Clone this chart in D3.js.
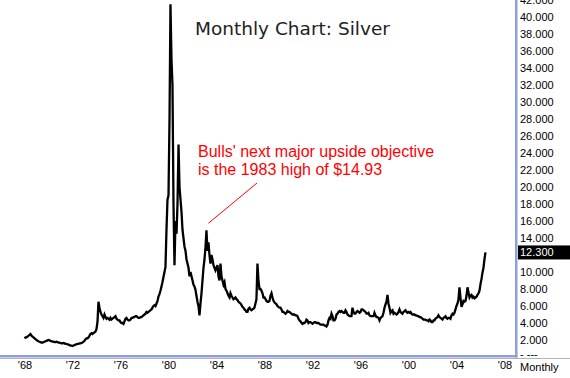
<!DOCTYPE html>
<html>
<head>
<meta charset="utf-8">
<script src="https://cdn.jsdelivr.net/npm/d3@7"></script>
<style>
  body { margin: 0; background: #fff; }
  svg { display: block; }
</style>
</head>
<body>
<div id="chart"></div>
<script>
// monthly silver prices, one value per month starting Jan 1968
const startYear = 1968;
const prices1960s = [
  2.2, 2.3, 2.3, 2.4, 2.5, 2.6, 2.7, 2.5, 2.4, 2.3, 2.2, 2.1,
  2.0, 1.9, 1.85, 1.8, 1.75, 1.7, 1.7, 1.75, 1.8, 1.85, 1.9, 1.95
];
const prices1970s = [
  2.0, 1.95, 1.9, 1.85, 1.8, 1.8, 1.75, 1.75, 1.8, 1.75, 1.7, 1.7,
  1.65, 1.6, 1.6, 1.65, 1.6, 1.55, 1.55, 1.5, 1.45, 1.4, 1.35, 1.35,
  1.3, 1.35, 1.4, 1.45, 1.5, 1.55, 1.55, 1.6, 1.6, 1.65, 1.7, 1.8,
  1.9, 2.1, 2.2, 2.2, 2.3, 2.5, 2.7, 2.8, 2.7, 2.8, 2.9, 3.0,
  3.3, 4.2, 6.5, 5.8, 5.3, 5.0, 4.8, 4.6, 5.0, 4.7, 4.5, 4.6,
  4.5, 4.4, 4.6, 4.4, 4.5, 4.6, 4.7, 4.8, 4.5, 4.4, 4.3, 4.3,
  4.1, 4.0, 4.0, 3.9, 4.2, 4.5, 4.6, 4.4, 4.3, 4.3, 4.4, 4.6,
  4.6, 4.7, 4.7, 4.8, 4.8, 4.7, 4.6, 4.6, 4.7, 4.7, 4.8, 4.9,
  5.0, 5.1, 5.3, 5.2, 5.3, 5.4, 5.5, 5.6, 5.8, 6.0, 6.1, 6.0,
  6.3, 6.6, 7.1, 7.4, 7.8, 8.3, 8.8, 9.4, 10.0, 10.6, 15.0, 18.5
];
const prices1980s = [
  19, 28, 41.5, 35, 32, 18, 10.8, 16, 14.5, 18, 25, 20,
  18.5, 17, 15, 14, 13, 12.5, 11.5, 11, 10.5, 9.5, 10, 9.5,
  9.0, 8.5, 8.3, 7.9, 7.2, 6.5, 6.0, 4.9, 6.3, 7.5, 9.0, 10.5,
  11.5, 13, 14.9, 12.5, 13.5, 12, 11, 12, 11.5, 10.8, 10.5, 10.2,
  10.5, 10.8, 9.5, 9.0, 11.0, 9.5, 9.0, 8.5, 8.8, 8.0, 7.8, 7.5,
  7.2, 7.0, 7.5, 7.2, 7.0, 6.8, 6.9, 7.0, 6.8, 6.7, 6.5, 6.4,
  6.3, 6.1, 5.9, 5.8, 5.6, 5.5, 5.3, 5.3, 5.7, 5.8, 5.6, 5.5,
  5.6, 5.7, 5.8, 6.3, 6.8, 11.0, 9.0, 8.0, 8.0, 7.8, 7.5, 7.0,
  7.0, 6.8, 6.6, 6.5, 6.5, 6.6, 7.2, 7.5, 7.0, 6.6, 6.4, 6.3,
  6.2, 6.0, 5.9, 5.8, 5.8, 5.6, 5.3, 5.3, 5.2, 5.1, 5.2, 5.4
];
const prices1990s = [
  5.3, 5.3, 5.2, 5.1, 5.0, 5.0, 5.0, 4.9, 4.9, 4.8, 4.5, 4.3,
  4.2, 4.0, 3.9, 4.0, 4.0, 4.1, 4.4, 4.3, 4.0, 4.1, 4.1, 4.0,
  3.9, 4.0, 4.1, 4.1, 4.0, 4.0, 4.0, 3.9, 3.8, 3.8, 3.8, 3.8,
  3.7, 3.7, 3.6, 3.8, 4.3, 4.6, 4.5, 5.1, 4.8, 4.3, 4.3, 4.5,
  5.0, 5.1, 5.3, 5.4, 5.3, 5.4, 5.3, 5.2, 5.2, 5.5, 5.3, 5.0,
  4.9, 4.8, 4.8, 4.8, 5.8, 5.3, 5.1, 5.1, 5.3, 5.4, 5.3, 5.2,
  5.3, 5.6, 5.6, 5.5, 5.4, 5.3, 5.1, 5.1, 5.2, 4.9, 4.8, 4.8,
  4.8, 4.8, 5.2, 4.9, 4.7, 4.7, 4.6, 4.3, 4.6, 4.7, 4.8, 5.2,
  5.8, 6.2, 6.5, 7.3, 6.3, 5.8, 5.2, 5.4, 5.5, 5.1, 5.2, 5.1,
  5.0, 5.1, 5.3, 5.6, 5.3, 5.2, 5.1, 5.3, 5.4, 5.5, 5.3, 5.2
];
const prices2000s = [
  5.3, 5.2, 5.3, 5.1, 5.0, 5.0, 5.0, 4.9, 4.9, 4.8, 4.8, 4.7,
  4.7, 4.6, 4.5, 4.4, 4.4, 4.4, 4.3, 4.3, 4.2, 4.4, 4.3, 4.1,
  4.1, 4.3, 4.3, 4.5, 4.6, 4.7, 4.9, 4.7, 4.6, 4.5, 4.4, 4.6,
  4.7, 4.8, 4.6, 4.5, 4.6, 4.6, 4.5, 4.9, 5.1, 5.0, 5.2, 5.6,
  6.0, 6.3, 6.8, 8.2, 7.0, 5.9, 6.2, 6.6, 6.5, 6.6, 7.2, 8.2,
  7.6, 7.0, 7.2, 7.3, 7.0, 7.1, 6.9, 7.0, 7.1, 7.3, 7.5, 7.8,
  8.6, 9.2, 9.9, 10.5, 11.5, 12.3
];
const lastPrice = 12.3;
const yearTicks = [1968, 1972, 1976, 1980, 1984, 1988, 1992, 1996, 2000, 2004, 2008];
// 12.000 sits under the last-price marker, so it is left out
const priceTicks = [0, 2, 4, 6, 8, 10, 14, 16, 18, 20, 22, 24, 26, 28, 30, 32, 34, 36, 38, 40, 42];
const title = "Monthly Chart: Silver";
const note = ["Bulls' next major upside objective", "is the 1983 high of $14.93"];
const notePrice = 15.5;

const prices = [].concat(prices1960s, prices1970s, prices1980s, prices1990s, prices2000s);
const data = prices.map((p, i) => ({date: new Date(startYear, i, 1), price: p}));

const width = 570, height = 378;
const axisBlue = "#8d9fd8";
const labelFont = "'Liberation Sans', Arial, sans-serif";

const svg = d3.select("#chart")
  .append("svg")
  .attr("width", width)
  .attr("height", height);

const x = d3.scaleTime()
  .domain([new Date(1968, 0, 1), new Date(2008, 0, 1)])
  .range([24.5, 504.5]);

const y = d3.scaleLinear()
  .domain([0, 42])
  .range([357, 0]);

// price line
const line = d3.line()
  .x(d => x(d.date))
  .y(d => y(d.price));

svg.append("path")
  .datum(data)
  .attr("fill", "none")
  .attr("stroke", "#000")
  .attr("stroke-width", 2.3)
  .attr("stroke-linejoin", "miter")
  .attr("d", line);

// frame lines
svg.append("rect")
  .attr("x", 0).attr("y", 355)
  .attr("width", 517.5).attr("height", 2.5)
  .attr("fill", axisBlue);
svg.append("rect")
  .attr("x", 515).attr("y", 0)
  .attr("width", 2.5).attr("height", 357.5)
  .attr("fill", axisBlue);
svg.append("rect")
  .attr("x", 0).attr("y", 358)
  .attr("width", width).attr("height", 1)
  .attr("fill", "#b4b4b4");

// right price axis
const yAxis = g => g
  .attr("transform", "translate(517,0)")
  .call(d3.axisRight(y)
    .tickValues(priceTicks)
    .tickSize(0)
    .tickPadding(3)
    .tickFormat(d => d === 0 ? "- ---" : d3.format(".3f")(d)))
  .call(g => g.select(".domain").remove())
  .call(g => g.selectAll("text")
    .attr("font-family", labelFont)
    .attr("font-size", 11)
    .attr("fill", "#000"))
  .call(g => g.selectAll(".tick").filter(d => d === 0).select("text").attr("dy", "0"));

svg.append("g").call(yAxis);

// last price marker
svg.append("rect")
  .attr("x", 518)
  .attr("y", y(lastPrice) - 7)
  .attr("width", width - 518)
  .attr("height", 14)
  .attr("fill", "#000");
svg.append("text")
  .attr("x", 520)
  .attr("y", y(lastPrice))
  .attr("dy", "0.35em")
  .attr("font-family", labelFont)
  .attr("font-size", 11)
  .attr("fill", "#fff")
  .text(d3.format(".3f")(lastPrice));

// bottom year axis
const xAxis = g => g
  .attr("transform", "translate(0,361)")
  .call(d3.axisBottom(x)
    .tickValues(yearTicks.map(yr => new Date(yr, 0, 1)))
    .tickSize(0)
    .tickPadding(0)
    .tickFormat(d => "'" + d3.timeFormat("%y")(d)))
  .call(g => g.select(".domain").remove())
  .call(g => g.selectAll("text")
    .attr("font-family", labelFont)
    .attr("font-size", 11)
    .attr("fill", "#000"));

svg.append("g").call(xAxis);

svg.append("text")
  .attr("x", 520)
  .attr("y", 371)
  .attr("font-family", labelFont)
  .attr("font-size", 11)
  .attr("fill", "#000")
  .text("Monthly");

// title
svg.append("text")
  .attr("x", 195)
  .attr("y", 35)
  .attr("font-family", "'DejaVu Sans', sans-serif")
  .attr("font-size", 18.5)
  .attr("fill", "#222")
  .text(title);

// annotation
svg.append("text")
  .attr("font-family", labelFont)
  .attr("font-size", 16)
  .attr("fill", "#f00")
  .selectAll("tspan")
  .data(note)
  .join("tspan")
  .attr("x", 198)
  .attr("y", (d, i) => 156.5 + i * 18.5)
  .text(d => d);

svg.append("line")
  .attr("x1", x(new Date(1983, 2, 1)) + 2)
  .attr("y1", y(notePrice) - 2)
  .attr("x2", 257)
  .attr("y2", 183)
  .attr("stroke", "#f00")
  .attr("stroke-width", 1);
</script>
</body>
</html>
